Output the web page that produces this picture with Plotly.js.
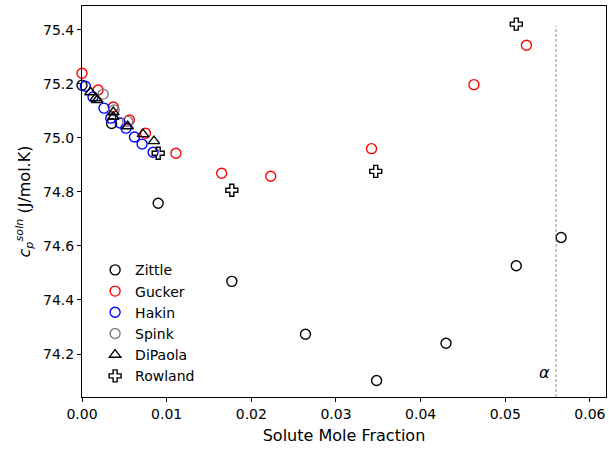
<!DOCTYPE html>
<html>
<head>
<meta charset="utf-8">
<script src="https://cdn.plot.ly/plotly-3.0.1.min.js"></script>
<style>html,body{margin:0;padding:0;background:#fff;}#chart{width:609px;height:450px;}</style>
</head>
<body>
<div id="chart"></div>
<script>
// Data
const zittleX = [0.0000, 0.0035, 0.0090, 0.0177, 0.0264, 0.0348, 0.0430, 0.0513, 0.0566];
const zittleY = [75.195, 75.053, 74.758, 74.469, 74.273, 74.102, 74.240, 74.527, 74.631];

const guckerX = [0.0000, 0.0019, 0.0037, 0.0056, 0.0075, 0.0111, 0.0165, 0.0223, 0.0342, 0.0463, 0.0525];
const guckerY = [75.239, 75.177, 75.114, 75.066, 75.017, 74.943, 74.869, 74.858, 74.960, 75.197, 75.343];

const hakinX = [0.0004, 0.0013, 0.0026, 0.0034, 0.0045, 0.0052, 0.0062, 0.0071, 0.0084];
const hakinY = [75.191, 75.151, 75.110, 75.073, 75.055, 75.036, 75.003, 74.977, 74.947];

const spinkX = [0.0025, 0.0038, 0.0054];
const spinkY = [75.162, 75.103, 75.061];

const dipaolaX = [0.0010, 0.0016, 0.0018, 0.0037, 0.0037, 0.0054, 0.0072, 0.0085];
const dipaolaY = [75.169, 75.147, 75.140, 75.095, 75.078, 75.043, 75.014, 74.988];

const rowlandX = [0.0090, 0.0177, 0.0347, 0.0513];
const rowlandY = [74.943, 74.806, 74.876, 75.421];

const alphaX = 0.056;

const seriesNames = ["Zittle", "Gucker", "Hakin", "Spink", "DiPaola", "Rowland"];

function mk(name, x, y, symbol, color, size) {
  return {
    type: "scatter", mode: "markers", name: name, x: x, y: y,
    marker: {symbol: symbol, size: size, color: color, line: {color: color, width: 1.4}},
    cliponaxis: false
  };
}

const traces = [
  mk(seriesNames[0], zittleX, zittleY, "circle-open", "#000000", 10),
  mk(seriesNames[1], guckerX, guckerY, "circle-open", "#ff0000", 10),
  mk(seriesNames[2], hakinX, hakinY, "circle-open", "#0000ff", 10),
  mk(seriesNames[3], spinkX, spinkY, "circle-open", "#808080", 10),
  mk(seriesNames[4], dipaolaX, dipaolaY, "triangle-up-open", "#000000", 10),
  mk(seriesNames[5], rowlandX, rowlandY, "cross-open", "#000000", 10)
];

const layout = {
  width: 609, height: 450,
  margin: {l: 82, r: 3, t: 6, b: 53, pad: 0},
  paper_bgcolor: "#ffffff", plot_bgcolor: "#ffffff",
  font: {family: "DejaVu Sans", size: 14, color: "#000000"},
  showlegend: true,
  legend: {
    x: 0.025, y: 0.365, xanchor: "left", yanchor: "top",
    bgcolor: "rgba(255,255,255,0)", borderwidth: 0,
    font: {family: "DejaVu Sans", size: 14, color: "#000000"},
    itemsizing: "trace", itemwidth: 30
  },
  xaxis: {
    range: [0, 0.0619], dtick: 0.01, tick0: 0, tickformat: ".2f",
    showgrid: false, zeroline: false,
    showline: true, linecolor: "#000000", linewidth: 1, mirror: true,
    ticks: "outside", ticklen: 4, tickwidth: 1, tickcolor: "#000000",
    tickfont: {family: "DejaVu Sans", size: 14},
    title: {text: "Solute Mole Fraction", font: {family: "DejaVu Sans", size: 16}, standoff: 9}
  },
  yaxis: {
    range: [74.041, 75.488], dtick: 0.2, tick0: 74.2, tickformat: ".1f",
    showgrid: false, zeroline: false,
    showline: true, linecolor: "#000000", linewidth: 1, mirror: true,
    ticks: "outside", ticklen: 4, tickwidth: 1, tickcolor: "#000000",
    tickfont: {family: "DejaVu Sans", size: 14},
    title: {text: "<i>c<sub>p</sub><sup>soln</sup></i> (J/mol.K)", font: {family: "DejaVu Sans", size: 16}, standoff: 8}
  },
  shapes: [{
    type: "line", xref: "x", yref: "y",
    x0: alphaX, x1: alphaX, y0: 74.041, y1: 75.414,
    line: {color: "#707070", width: 0.8, dash: "3px,2px"}
  }],
  annotations: [{
    xref: "x", yref: "y", x: alphaX - 0.0005, y: 74.13,
    xanchor: "right", yanchor: "middle", showarrow: false,
    text: "<i>α</i>", font: {family: "DejaVu Sans", size: 16, color: "#000000"}
  }]
};

Plotly.newPlot("chart", traces, layout, {displayModeBar: false, staticPlot: true});
</script>
</body>
</html>
